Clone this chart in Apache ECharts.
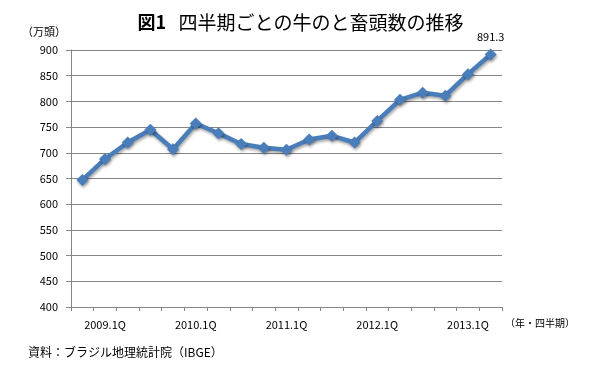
<!DOCTYPE html>
<html><head><meta charset="utf-8">
<script src="https://cdn.jsdelivr.net/npm/echarts@6/dist/echarts.min.js"></script>
<style>html,body{margin:0;padding:0;background:#fff}#c{width:601px;height:386px}</style>
</head><body><div id="c"></div>
<script>
const categories = ["2008.4Q","2009.1Q","2009.2Q","2009.3Q","2009.4Q","2010.1Q","2010.2Q","2010.3Q","2010.4Q","2011.1Q","2011.2Q","2011.3Q","2011.4Q","2012.1Q","2012.2Q","2012.3Q","2012.4Q","2013.1Q","2013.2Q"];
const cattle = [647, 688, 720, 745, 707, 757, 738, 717, 710, 706, 726, 733, 720, 762, 803, 817, 811, 853, 891.3];
const yTicks = {min: 400, max: 900, interval: 50};
const titleHead = "図1";
const titleBody = "四半期ごとの牛のと畜頭数の推移";
const unitY = "（万頭）";
const unitX = "（年・四半期）";
const source = "資料：ブラジル地理統計院（IBGE）";

const FONT = '"Noto Sans CJK JP", "DejaVu Sans", sans-serif';
const chart = echarts.init(document.getElementById('c'), null, {renderer: 'canvas'});
chart.setOption({
  animation: false,
  backgroundColor: '#fff',
  title: {
    text: '{h|' + titleHead + '}   {b|' + titleBody + '}', left: 'center', top: 8,
    textStyle: {fontFamily: FONT, fontSize: 18, color: '#000',
      rich: {h: {fontFamily: FONT, fontSize: 18, fontWeight: 'bold', color: '#000'},
             b: {fontFamily: FONT, fontSize: 19, fontWeight: 'normal', color: '#000'}}}
  },
  graphic: [
    {type: 'text', left: 22, top: 26, style: {text: unitY, font: '11px ' + FONT, fill: '#000'}},
    {type: 'text', left: 505, top: 318, style: {text: unitX, font: '10px ' + FONT, fill: '#000'}},
    {type: 'text', left: 28, top: 346, style: {text: source, font: '12px ' + FONT, fill: '#000'}}
  ],
  grid: {left: 71, right: 99, top: 50, bottom: 79},
  xAxis: {
    type: 'category', data: categories, boundaryGap: true,
    axisLine: {lineStyle: {color: '#868686', width: 1}},
    axisTick: {show: true, interval: 0, length: 4, lineStyle: {color: '#868686'}},
    axisLabel: {interval: 0, formatter: (v, i) => (i % 4 === 1 ? v : ''), margin: 12, fontFamily: FONT, fontSize: 11, color: '#000'}
  },
  yAxis: {
    type: 'value', min: yTicks.min, max: yTicks.max, interval: yTicks.interval,
    axisLine: {show: true, lineStyle: {color: '#868686', width: 1}},
    axisTick: {show: true, length: 5, lineStyle: {color: '#868686'}},
    splitLine: {lineStyle: {color: '#868686', width: 1}},
    axisLabel: {margin: 13, fontFamily: FONT, fontSize: 11, color: '#000'}
  },
  series: [{
    type: 'line', data: cattle,
    symbol: 'diamond', symbolSize: 12,
    lineStyle: {color: '#4A7EBB', width: 4.5, shadowColor: 'rgba(0,0,0,0.35)', shadowBlur: 3, shadowOffsetX: 1, shadowOffsetY: 2},
    itemStyle: {color: '#4A7EBB', shadowColor: 'rgba(0,0,0,0.35)', shadowBlur: 3, shadowOffsetX: 1, shadowOffsetY: 2},
    label: {show: true, position: 'top', distance: 6, fontFamily: FONT, fontSize: 11, color: '#000',
      formatter: p => (p.dataIndex === cattle.length - 1 ? String(p.value) : '')}
  }]
});
</script></body></html>
